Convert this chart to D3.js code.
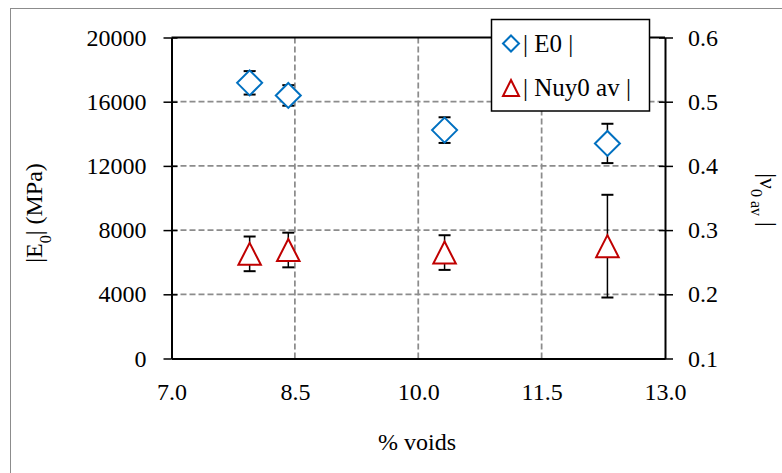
<!DOCTYPE html>
<html>
<head>
<meta charset="utf-8">
<script src="https://cdn.jsdelivr.net/npm/d3@7/dist/d3.min.js"></script>
<style>
  html, body { margin: 0; padding: 0; background: #fff; }
  svg { display: block; }
  svg text { font-family: "Liberation Serif", "Times New Roman", Times, "DejaVu Serif", serif !important; fill: #000; }
</style>
</head>
<body>
<svg id="chart" width="782" height="473"></svg>
<script>
// ---- data ----
const voids = [7.95, 8.42, 10.32, 12.30];
const e0Values = [17175, 16390, 14230, 13400];
const e0Errors = [730, 640, 800, 1225];
const nuValues = [0.263, 0.269, 0.265, 0.275];
const nuErrors = [0.027, 0.027, 0.027, 0.080];
const xTicks = [7.0, 8.5, 10.0, 11.5, 13.0];
const yLeftTicks = [0, 4000, 8000, 12000, 16000, 20000];
const yRightTicks = [0.1, 0.2, 0.3, 0.4, 0.5, 0.6];
const seriesNames = ["| E0 |", "| Nuy0 av |"];

// ---- layout ----
const FONT = '"Liberation Serif", "Times New Roman", Times, "DejaVu Serif", serif';
const svg = d3.select("#chart");
const plot = { left: 171.5, right: 665, top: 37.5, bottom: 358.5 };
const fontSize = 24;
const blue = "#0070C0", red = "#C00000";

const x = d3.scaleLinear().domain([7, 13]).range([plot.left, plot.right]);
const yL = d3.scaleLinear().domain([0, 20000]).range([plot.bottom, plot.top]);
const yR = d3.scaleLinear().domain([0.1, 0.6]).range([plot.bottom, plot.top]);

// outer chart frame
svg.append("rect").attr("x", 10.5).attr("y", 8.5).attr("width", 800).attr("height", 500)
  .attr("fill", "#fff").attr("stroke", "#8c8c8c").attr("stroke-width", 1);

// gridlines
const grid = svg.append("g").attr("stroke", "#8c8c8c").attr("stroke-width", 1.75)
  .attr("stroke-dasharray", "6,3");
yLeftTicks.filter(v => v > 0 && v < 20000).forEach(v => {
  grid.append("line").attr("x1", plot.left).attr("x2", plot.right)
    .attr("y1", yL(v)).attr("y2", yL(v));
});
xTicks.filter(v => v > 7 && v < 13).forEach(v => {
  grid.append("line").attr("y1", plot.top).attr("y2", plot.bottom)
    .attr("x1", x(v)).attr("x2", x(v));
});

// top border
svg.append("line").attr("x1", plot.left).attr("x2", plot.right)
  .attr("y1", plot.top).attr("y2", plot.top).attr("stroke", "#000").attr("stroke-width", 2);

// axes
function styleAxis(g) {
  g.attr("font-family", FONT).attr("font-size", fontSize);
  g.select(".domain").attr("stroke", "#000").attr("stroke-width", 2);
  g.selectAll(".tick line").attr("stroke", "#000").attr("stroke-width", 1.5);
  g.selectAll(".tick text").style("font-size", fontSize + "px").attr("fill", "#000");
}

const gx = svg.append("g").attr("transform", `translate(0,${plot.bottom})`)
  .call(d3.axisBottom(x).tickValues(xTicks).tickFormat(d3.format(".1f")).tickSize(0).tickPadding(24));
styleAxis(gx);

const gl = svg.append("g").attr("transform", `translate(${plot.left},0)`)
  .call(d3.axisLeft(yL).tickValues(yLeftTicks).tickFormat(d3.format("d")).tickSizeInner(8).tickSizeOuter(0).tickPadding(17));
styleAxis(gl);
gl.selectAll(".tick").append("line").attr("x1", 0).attr("x2", 6).attr("stroke", "#000").attr("stroke-width", 1.5);

const gr = svg.append("g").attr("transform", `translate(${plot.right},0)`)
  .call(d3.axisRight(yR).tickValues(yRightTicks).tickFormat(d3.format(".1f")).tickSizeInner(8).tickSizeOuter(0).tickPadding(15));
styleAxis(gr);
gr.selectAll(".tick").append("line").attr("x1", 0).attr("x2", -6).attr("stroke", "#000").attr("stroke-width", 1.5);

// axis titles
svg.append("text").attr("x", 417).attr("y", 450).attr("text-anchor", "middle")
  .style("font-size", fontSize + "px").text("% voids");

const tl = svg.append("text").attr("transform", "translate(42,213) rotate(-90)")
  .attr("text-anchor", "middle").style("font-size", fontSize + "px");
tl.append("tspan").text("|E");
tl.append("tspan").attr("baseline-shift", "sub").style("font-size", "16px").text("0");
tl.append("tspan").text("| (MPa)");

const tr = svg.append("text").attr("transform", "translate(760,200) rotate(90)")
  .attr("text-anchor", "middle").style("font-size", fontSize + "px");
tr.append("tspan").text("|ν");
tr.append("tspan").attr("baseline-shift", "sub").style("font-size", "16px").text("0 av");
tr.append("tspan").text(" |");

// markers
function diamondPath(cx, cy, r) {
  return `M${cx},${cy - r}L${cx + r},${cy}L${cx},${cy + r}L${cx - r},${cy}Z`;
}
function trianglePath(cx, cy, w, h) {
  return `M${cx},${cy - h / 2}L${cx + w / 2},${cy + h / 2}L${cx - w / 2},${cy + h / 2}Z`;
}
function errorBars(xs, ys, errs, yScale) {
  const g = svg.append("g").attr("stroke", "#000");
  xs.forEach((xv, i) => {
    const px = x(xv), y1 = yScale(ys[i] + errs[i]), y2 = yScale(ys[i] - errs[i]);
    g.append("line").attr("x1", px).attr("x2", px).attr("y1", y1).attr("y2", y2).attr("stroke-width", 1.5);
    g.append("line").attr("x1", px - 6).attr("x2", px + 6).attr("y1", y1).attr("y2", y1).attr("stroke-width", 2);
    g.append("line").attr("x1", px - 6).attr("x2", px + 6).attr("y1", y2).attr("y2", y2).attr("stroke-width", 2);
  });
}
errorBars(voids, e0Values, e0Errors, yL);
errorBars(voids, nuValues, nuErrors, yR);

svg.append("g").selectAll("path").data(voids).join("path")
  .attr("d", (d, i) => diamondPath(x(d), yL(e0Values[i]), 12.5))
  .attr("fill", "#fff").attr("stroke", blue).attr("stroke-width", 2);
svg.append("g").selectAll("path").data(voids).join("path")
  .attr("d", (d, i) => trianglePath(x(d), yR(nuValues[i]), 22.5, 22))
  .attr("fill", "#fff").attr("stroke", red).attr("stroke-width", 2);

// legend
const lg = svg.append("g");
lg.append("rect").attr("x", 491.5).attr("y", 19.5).attr("width", 158).attr("height", 91.5)
  .attr("fill", "#fff").attr("stroke", "#000").attr("stroke-width", 1.5);
lg.append("path").attr("d", diamondPath(511, 43.5, 8)).attr("fill", "#fff").attr("stroke", blue).attr("stroke-width", 2);
lg.append("path").attr("d", trianglePath(511, 88, 16, 16)).attr("fill", "#fff").attr("stroke", red).attr("stroke-width", 2);
lg.append("text").attr("x", 523).attr("y", 52).style("font-size", "25px").text(seriesNames[0]);
lg.append("text").attr("x", 523).attr("y", 96).style("font-size", "25px").text(seriesNames[1]);
</script>
</body>
</html>
